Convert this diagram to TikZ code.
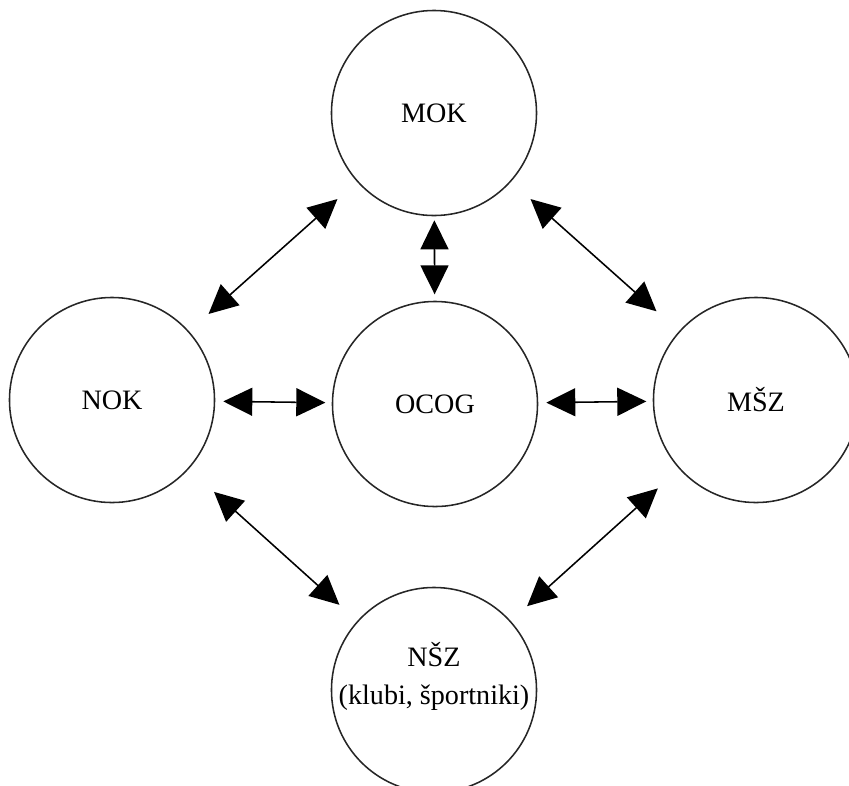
\documentclass[tikz,border=0pt]{standalone}
\usepackage{fontspec}
\setmainfont{Liberation Serif}
\usetikzlibrary{arrows.meta}
\tikzset{
  orgtext/.style={align=center,inner sep=0pt,font=\fontsize{20}{27}\selectfont},
  org/.style={circle,draw=black!85,line width=1.1pt,minimum size=5.125cm,orgtext},
  link/.style={line width=1.1pt,{Triangle[length=0.725cm,width=0.7cm]}-{Triangle[length=0.725cm,width=0.7cm]}},
  near/.style={link,shorten <=0.2cm,shorten >=0.16cm},
  far/.style={link,shorten <=0.65cm,shorten >=0.65cm},
}
\begin{document}
\begin{tikzpicture}[x=0.025cm,y=-0.025cm]
    \useasboundingbox (0,0) rectangle (849,785);
    \clip (0,0) rectangle (849,785);
    \node[org](mok)at(434,113){MOK};
    \node[org](nok)at(112,400){NOK};
    \node[org](ocog)at(435,404){OCOG};
    \node[org](msz)at(756,400){MŠZ};
    \node[org](nsz)at(434,690){};
    \node[orgtext](nsztext)at(434,676){NŠZ\\(klubi, športniki)};
    \draw[near] (nok) -- (ocog);
    \draw[near] (ocog) -- (msz);
    \draw[near,shorten <=0.1cm] (mok) -- (ocog);
    \draw[far] (mok) -- (nok);
    \draw[far,shorten >=0.75cm] (mok) -- (msz);
    \draw[far,shorten <=0.85cm,shorten >=0.6cm] (nok) -- (nsz);
    \draw[far,shorten <=0.72cm,shorten >=0.55cm] (msz) -- (nsz);
\end{tikzpicture}
\end{document}
